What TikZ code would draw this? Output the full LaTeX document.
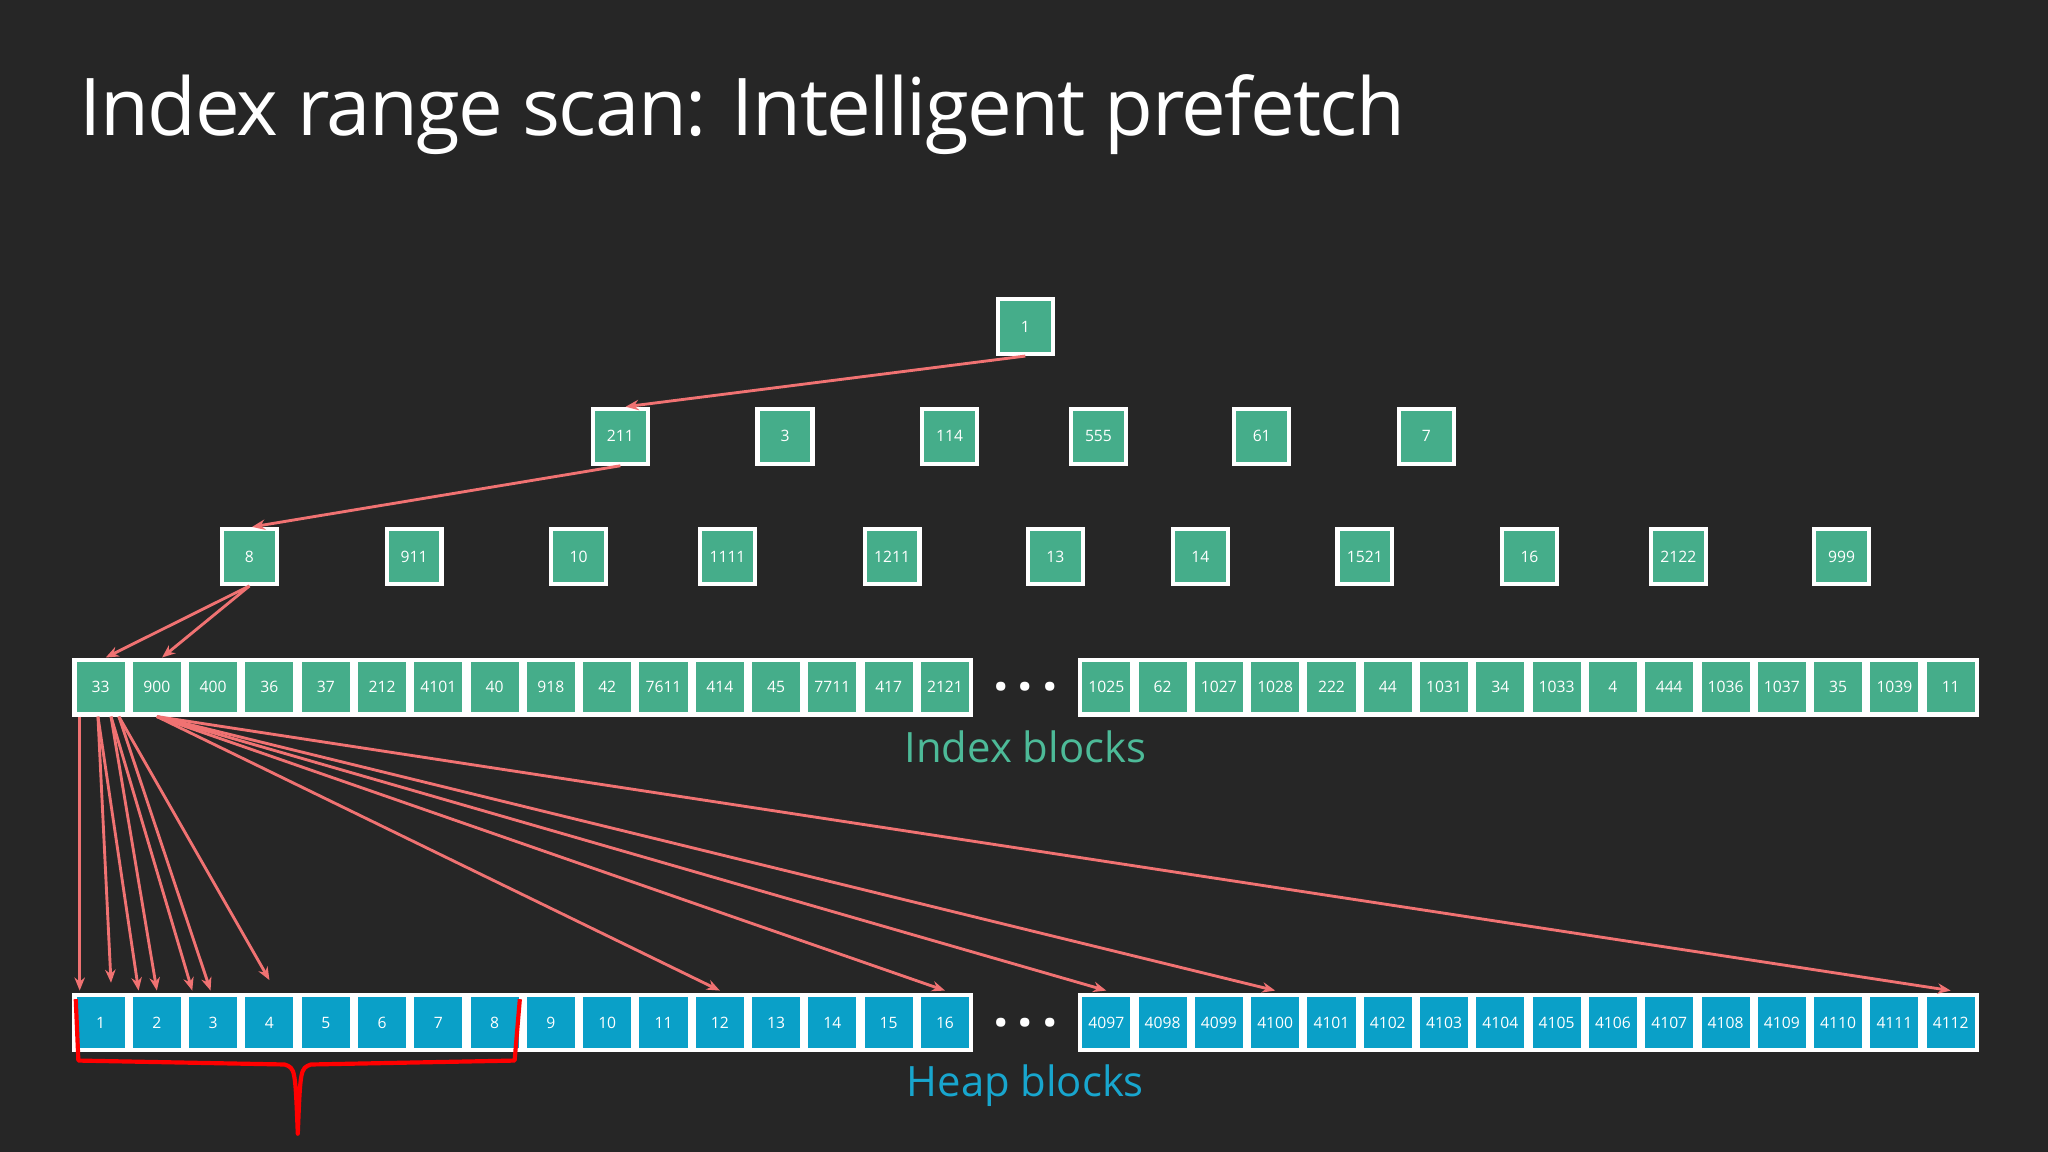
\documentclass[tikz,border=0pt]{standalone}
\usepackage{fontspec}
\setmainfont{Open Sans}
\usetikzlibrary{arrows.meta}
\definecolor{bgdark}{HTML}{262626}
\definecolor{idxgreen}{HTML}{45AD8A}
\definecolor{heapblue}{HTML}{0AA0C8}
\definecolor{ptr}{HTML}{F07272}
\definecolor{idxtext}{HTML}{4DBA98}
\definecolor{heaptext}{HTML}{18A6CE}
\begin{document}
\begin{tikzpicture}[x=0.5pt, y=-0.5pt,
  block/.style={draw=white, line width=1.6pt, fill=idxgreen, minimum width=21pt,
    minimum height=21pt, inner sep=0pt, text=white, font=\fontsize{6}{7}\selectfont},
  cell/.style={block, minimum width=20pt, minimum height=21pt},
  heap/.style={cell, fill=heapblue},
  ptr/.style={draw=ptr, line width=1.1pt, -{Stealth[length=5pt, width=4pt]}}]
  \fill[bgdark] (0,0) rectangle (1568,882);
  \node[anchor=base west, text=white, font=\fontsize{30.5}{36}\selectfont\addfontfeature{LetterSpace=-2}] (title) at (54,104) {Index range scan: Intelligent prefetch};

  % tree
  \node[block] (root) at (785,250) {1};
  \foreach \v/\x [count=\i] in {211/475,3/601,114/727,555/841,61/966,7/1092}
    \node[block] (m\i) at (\x,334) {\v};
  \foreach \v/\x [count=\i] in {8/191,911/317,10/443,1111/557,1211/683,13/808,14/919,1521/1045,16/1171,2122/1285,999/1410}
    \node[block] (n\i) at (\x,426) {\v};

  % index blocks
  \foreach \v [count=\i] in {33,900,400,36,37,212,4101,40,918,42,7611,414,45,7711,417,2121}
    \node[cell] (a\i) at ({33.9+43.1*\i},526) {\v};
  \foreach \v [count=\i] in {1025,62,1027,1028,222,44,1031,34,1033,4,444,1036,1037,35,1039,11}
    \node[cell] (b\i) at ({803.9+43.1*\i},526) {\v};
  \node[text=white, font=\huge\bfseries] (dotsa) at (785,526) {.\,.\,.};
  \node[text=idxtext, font=\fontsize{16}{18}\selectfont] (idxlab) at (785,572) {Index blocks};

  % heap blocks
  \foreach \i in {1,...,16}
    \node[heap] (h\i) at ({33.9+43.1*\i},783) {\i};
  \foreach \v [count=\i] in {4097,...,4112}
    \node[heap] (g\i) at ({803.9+43.1*\i},783) {\v};
  \node[text=white, font=\huge\bfseries] (dotsb) at (785,783) {.\,.\,.};
  \node[text=heaptext, font=\fontsize{16}{18}\selectfont] (heaplab) at (785,831) {Heap blocks};

  % pointers
  \draw[ptr] (root.south) -- ([xshift=2pt]m1.north);
  \draw[ptr] (m1.south) -- ([xshift=1pt]n1.north);
  \draw[ptr] (n1.south) -- ([xshift=2pt]a1.north);
  \draw[ptr] (n1.south) -- ([xshift=2pt]a2.north);
  \draw[ptr] ([xshift=-8pt]a1.south) -- ([xshift=-8pt,yshift=1pt]h1.north);
  \draw[ptr] ([xshift=-1pt]a1.south) -- ([xshift=4pt,yshift=4pt]h1.north);
  \draw[ptr] ([xshift=-1pt]a1.south) -- ([xshift=-7pt,yshift=1pt]h2.north);
  \draw[ptr] ([xshift=4pt]a1.south) -- ([xshift=0pt,yshift=1pt]h2.north);
  \draw[ptr] ([xshift=4pt]a1.south) -- ([xshift=-8pt,yshift=1pt]h3.north);
  \draw[ptr] ([xshift=7pt]a1.south) -- ([xshift=-1pt,yshift=1pt]h3.north);
  \draw[ptr] ([xshift=7pt]a1.south) -- ([xshift=0pt,yshift=5pt]h4.north);
  \draw[ptr] (a2.south) -- ([xshift=0pt,yshift=1pt]h12.north);
  \draw[ptr] (a2.south) -- ([xshift=0pt,yshift=1pt]h16.north);
  \draw[ptr] (a2.south) -- ([xshift=0pt,yshift=1pt]g1.north);
  \draw[ptr] (a2.south) -- ([xshift=0pt,yshift=1pt]g4.north);
  \draw[ptr] (a2.south) -- ([xshift=0pt,yshift=1pt]g16.north);

  % brace
  \draw[red, line width=1.6pt, line join=round]
    (58,765) -- (60,812) -- (218,815) .. controls (226,818) .. (228,868)
    .. controls (230,818) .. (238,815) -- (394,812) -- (398,765);
\end{tikzpicture}
\end{document}
